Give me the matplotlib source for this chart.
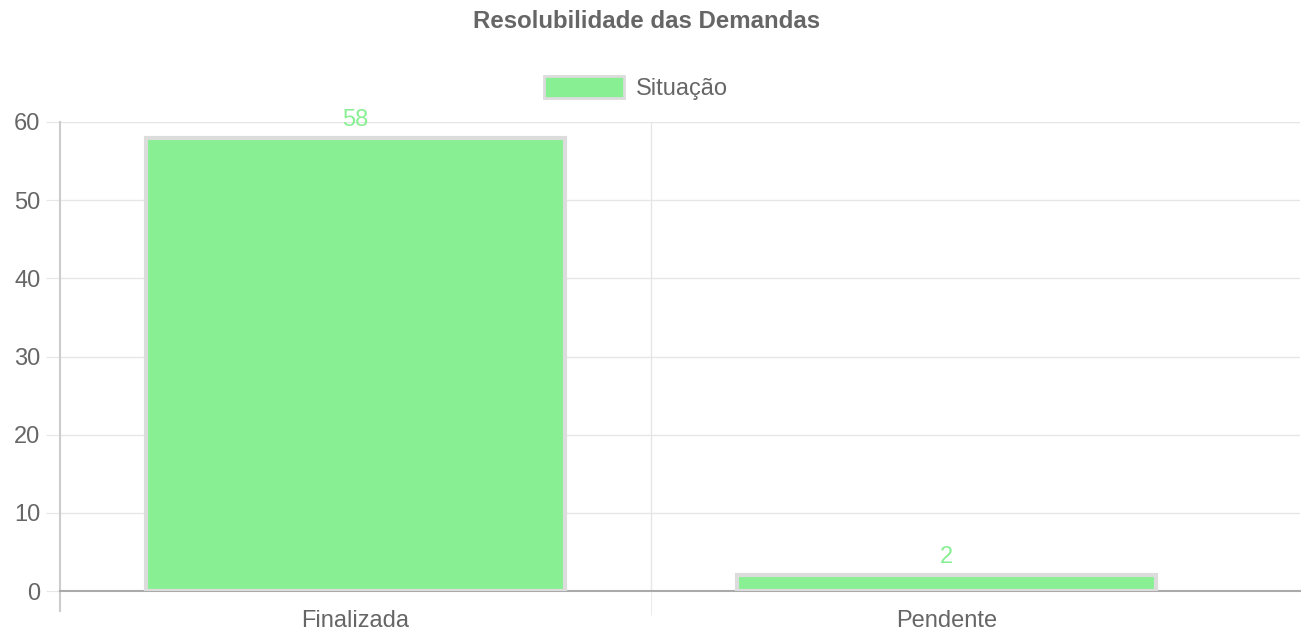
import matplotlib.pyplot as plt
from matplotlib.patches import Patch

# data
categories = ["Finalizada", "Pendente"]
values = [58, 2]
series_name = "Situação"
title = "Resolubilidade das Demandas"

plt.rcParams['font.family'] = ['Liberation Sans', 'DejaVu Sans']
txt = '#666666'
green = '#88f093'
edge = '#dcdcdc'

fig = plt.figure(figsize=(13.11, 6.38), dpi=100)
ax = fig.add_axes([60/1311, 1 - 591/638, (1300-60)/1311, (591-122)/638])

x = list(range(len(categories)))
bars = ax.bar(x, values, width=0.71, color=green, edgecolor=edge, linewidth=3, zorder=3)
for xi, v in zip(x, values):
    ax.text(xi, v + 0.9, str(v), ha='center', va='bottom', color=green, fontsize=17)

# the category axis stops short of the gridlines on the right
ax.set_xlim(-0.5, len(categories) - 0.5 + 58/591)
ax.set_ylim(0, 60)
ax.set_yticks(range(0, 61, 10))
ax.set_xticks(x)
ax.set_xticklabels(categories)
ax.set_xticks([0.5], minor=True)

ax.grid(axis='y', color='#e6e6e6', linewidth=1, zorder=0)
ax.grid(axis='x', which='minor', color='#e6e6e6', linewidth=1, zorder=0)
ax.tick_params(axis='y', length=10, color='#e6e6e6', labelsize=17, labelcolor=txt, pad=4)
ax.tick_params(axis='x', which='major', length=0, labelsize=17, labelcolor=txt, pad=14)
ax.tick_params(axis='x', which='minor', length=17, color='#e6e6e6')

for s in ['top', 'right']:
    ax.spines[s].set_visible(False)
ax.spines['left'].set_color('#cccccc')
ax.spines['left'].set_linewidth(1.5)
ax.spines['bottom'].set_color('#aaaaaa')
ax.spines['bottom'].set_linewidth(1.5)
ax.spines['left'].set_bounds(-2.5, 60)
ax.spines['left'].set_clip_on(False)

fig.text(647/1311, 1 - 22/638, title, ha='center', va='center', fontsize=17.3, fontweight='bold', color=txt)

fig.legend([Patch(facecolor=green, edgecolor=edge, linewidth=2)], [series_name],
           loc='center', bbox_to_anchor=(636/1311, 1 - 88/638), frameon=False,
           handlelength=3.4, handleheight=1.05, fontsize=17, labelcolor=txt,
           handletextpad=0.5)

fig.savefig('out.png', dpi=100)
